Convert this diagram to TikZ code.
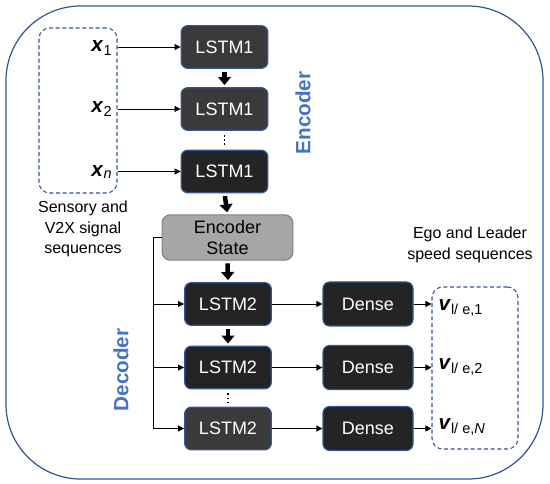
\documentclass[tikz,border=0pt]{standalone}
\usepackage{fontspec}
\setmainfont{Liberation Sans}
\definecolor{frameblue}{RGB}{47,85,151}
\definecolor{labelblue}{RGB}{68,114,196}
\definecolor{cellfill}{RGB}{36,36,36}
\definecolor{cellsoft}{RGB}{58,58,58}
\definecolor{stategray}{RGB}{166,166,166}
\definecolor{stateline}{RGB}{127,127,127}
\usetikzlibrary{arrows.meta,positioning}

\tikzset{
  cell/.style={draw=frameblue,line width=0.9pt,fill=cellfill,rounded corners=5pt,
    minimum width=65pt,minimum height=32pt,inner sep=0pt,text=white,
    font=\fontsize{13.5}{16}\selectfont},
  dashbox/.style={draw=frameblue,line width=0.8pt,dash pattern=on 3pt off 2pt,
    rounded corners=8pt,inner sep=0pt},
  seqlabel/.style={inner sep=1pt,font=\fontsize{15.5}{18}\selectfont},
  caption/.style={align=center,font=\fontsize{12}{15.5}\selectfont},
  partname/.style={rotate=90,text=labelblue,font=\bfseries\fontsize{15.5}{18}\selectfont},
  thin arrow/.style={-{Triangle[length=4.5pt,width=4.5pt]},line width=0.6pt},
  block arrow/.style={-{Triangle[length=6pt,width=9.5pt]},line width=3.4pt,
    shorten <=2pt,shorten >=1.5pt},
}

\begin{document}
\begin{tikzpicture}[x=0.75pt,y=-0.75pt]
  \useasboundingbox (0,0) rectangle (550,484);
  % outer frame
  \draw[frameblue,line width=0.9pt,rounded corners=56pt] (6,6) rectangle (543,479);

  % input sequence
  \node[dashbox,minimum width=58.5pt,minimum height=123.75pt] (inbox) at (78,110.5) {};
  \node[seqlabel,anchor=east] (x1) at (114,48) {\textbf{\textit{x}}\textsubscript{1}};
  \node[seqlabel,anchor=east] (x2) at (114,109) {\textbf{\textit{x}}\textsubscript{2}};
  \node[seqlabel,anchor=east] (xn) at (114,172) {\textbf{\textit{x}}\textsubscript{\textit{n}}};
  \node[caption] (incap) at (83,229) {Sensory and\\V2X signal\\sequences};

  % encoder
  \node[cell,fill=cellsoft] (enc1) at (224.5,47) {LSTM1};
  \node[cell,fill=cellsoft] (enc2) at (224.5,109) {LSTM1};
  \node[cell] (enc3) at (224.5,171.5) {LSTM1};
  \node[partname] (enclabel) at (303,113) {Encoder};
  \node[draw=stateline,line width=0.8pt,fill=stategray,rounded corners=6pt,
    minimum width=98pt,minimum height=34pt,inner sep=0pt,align=center,
    font=\fontsize{13.5}{16}\selectfont] (state) at (227.5,237.5) {Encoder\\State};

  % decoder
  \node[cell] (dec1) at (228,304) {LSTM2};
  \node[cell] (dec2) at (228,367.5) {LSTM2};
  \node[cell,fill=cellsoft] (dec3) at (228,428.5) {LSTM2};
  \node[partname] (declabel) at (121,370) {Decoder};
  \node[cell,minimum width=67.5pt,minimum height=33pt] (dense1) at (368,304) {Dense};
  \node[cell,minimum width=67.5pt,minimum height=33pt] (dense2) at (368,367.5) {Dense};
  \node[cell,minimum width=67.5pt,minimum height=33pt] (dense3) at (368,428.5) {Dense};

  % output sequence
  \node[dashbox,minimum width=64.5pt,minimum height=121.5pt] (outbox) at (475,368) {};
  \node[seqlabel,anchor=west] (v1) at (437,308) {\textbf{\textit{v}}\textsubscript{l/ e,1}};
  \node[seqlabel,anchor=west] (v2) at (437,367) {\textbf{\textit{v}}\textsubscript{l/ e,2}};
  \node[seqlabel,anchor=west] (vN) at (437,427) {\textbf{\textit{v}}\textsubscript{l/ e,\textit{N}}};
  \node[caption] (outcap) at (470,245) {Ego and Leader\\speed sequences};

  % connectors
  \draw[thin arrow] (inbox.east |- enc1) -- (enc1.west);
  \draw[thin arrow] (inbox.east |- enc2) -- (enc2.west);
  \draw[thin arrow] (inbox.east |- enc3) -- (enc3.west);
  \draw[block arrow] (enc1.south) -- (enc2.north);
  \draw[line width=1.2pt,dotted,shorten <=3pt,shorten >=3pt] (enc2.south) -- (enc3.north);
  \draw[block arrow] (enc3.south) -- (state.north);
  \draw[block arrow] (state.south) -- (dec1.north);
  \draw[block arrow] (dec1.south) -- (dec2.north);
  \draw[line width=1.2pt,dotted,shorten <=3pt,shorten >=3pt] (dec2.south) -- (dec3.north);

  \coordinate (bus) at (153,237.5);
  \draw[thin arrow] (state.west) -- (bus) |- (dec3.west);
  \draw[thin arrow] (bus |- dec1) -- (dec1.west);
  \draw[thin arrow] (bus |- dec2) -- (dec2.west);
  \foreach \i in {1,2,3}
    \draw[thin arrow] (dec\i.east) -- (dense\i.west);
  \foreach \i in {1,2,3}
    \draw[thin arrow] (dense\i.east) -- (outbox.west |- dense\i);
\end{tikzpicture}
\end{document}
